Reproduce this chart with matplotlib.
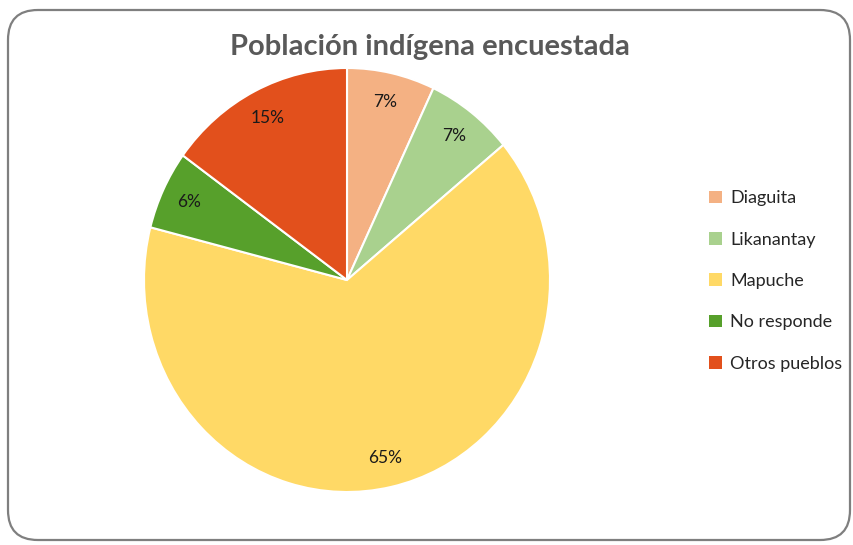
import matplotlib.pyplot as plt
from matplotlib.patches import FancyBboxPatch, Patch

categories = ['Diaguita', 'Likanantay', 'Mapuche', 'No responde', 'Otros pueblos']
values = [7, 7, 65, 6, 15]
colors = ['#F4B183', '#A9D18E', '#FFD966', '#57A02B', '#E2501C']

plt.rcParams['font.family'] = ['Lato', 'DejaVu Sans']

fig = plt.figure(figsize=(8.54, 5.45), dpi=100)

# rounded chart border
border = FancyBboxPatch((8 / 854, 5 / 545), 842 / 854, 530 / 545,
                        boxstyle='round,pad=0,rounding_size=0.035',
                        transform=fig.transFigure, facecolor='none',
                        edgecolor='#7F7F7F', linewidth=1.6, zorder=-1,
                        mutation_aspect=854 / 545)
fig.patches.append(border)

ax = fig.add_axes([144 / 854, 53 / 545, 406 / 854, 424 / 545])
wedges, texts, autotexts = ax.pie(
    values, colors=colors, startangle=90, counterclock=False,
    autopct='%1.0f%%', pctdistance=0.86,
    wedgeprops=dict(edgecolor='white', linewidth=1.5),
    textprops=dict(fontsize=12.5, color='#1a1a1a'))
ax.set_aspect('auto')
ax.set_xlim(-1, 1)
ax.set_ylim(-1, 1)

fig.text(430 / 854, 1 - 47 / 545, 'Población indígena encuestada',
         ha='center', va='center', fontsize=21, fontweight='bold',
         color='#595959')

handles = [Patch(facecolor=c, edgecolor='none') for c in colors]
fig.legend(handles, categories, loc='center left',
           bbox_to_anchor=(693 / 854, 1 - 281 / 545), frameon=False,
           fontsize=13, handlelength=0.7, handleheight=0.7,
           handletextpad=0.45, labelspacing=1.4, labelcolor='#262626')

fig.savefig('out.png', dpi=100)
